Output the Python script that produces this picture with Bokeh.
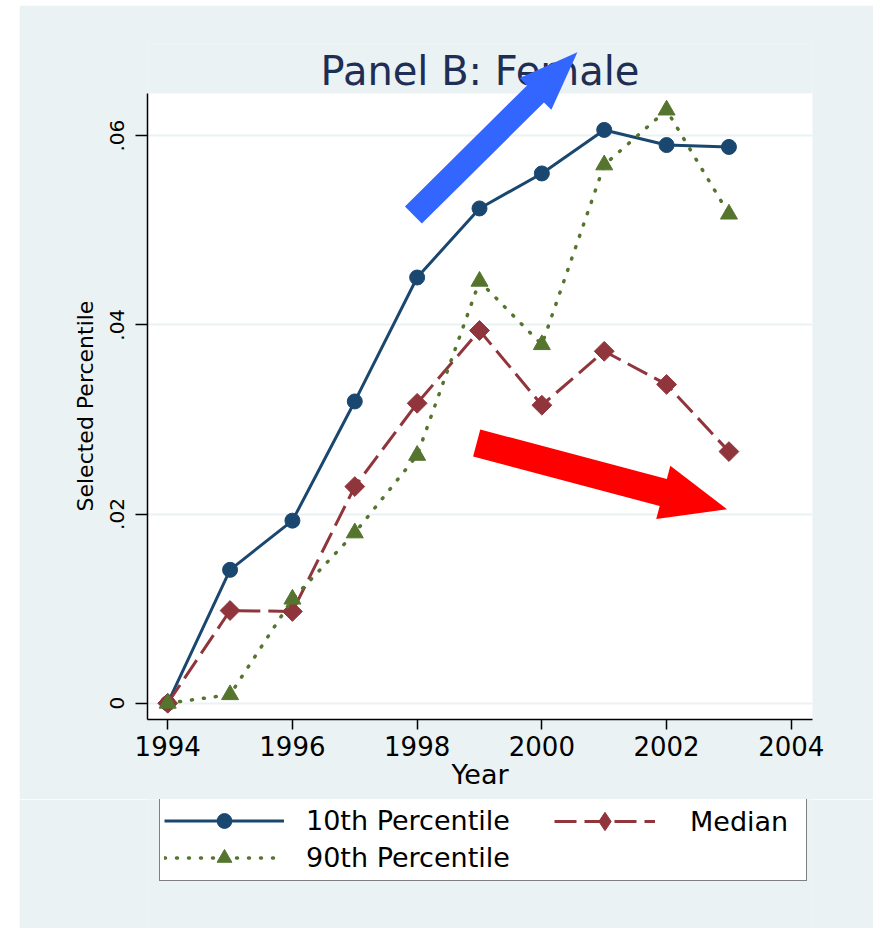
import math
from bokeh.plotting import figure
from bokeh.models import (Range1d, FixedTicker, Legend, LegendItem, PolyAnnotation, Spacer,
                          BoxAnnotation, Label, Title)
from bokeh.layouts import row, column
from bokeh.embed import file_html
from bokeh.resources import INLINE

# ---------------- data ----------------
years = [1994, 1995, 1996, 1997, 1998, 1999, 2000, 2001, 2002, 2003]
p10 = [0.0, 0.0141, 0.0193, 0.0319, 0.0450, 0.0523, 0.0560, 0.0606, 0.0590, 0.0588]
med = [0.0, 0.0098, 0.0097, 0.0229, 0.0317, 0.0394, 0.0315, 0.0372, 0.0337, 0.0266]
p90 = [0.0, 0.0009, 0.0110, 0.0180, 0.0262, 0.0446, 0.0379, 0.0569, 0.0627, 0.0517]

x_ticks = [1994, 1996, 1998, 2000, 2002, 2004]
y_ticks = [0, 0.02, 0.04, 0.06]
y_tick_labels = ["0", ".02", ".04", ".06"]
series_labels = ["10th Percentile", "Median", "90th Percentile"]
title_text = "Panel B: Female"
x_title = "Year"
y_title = "Selected Percentile"

# annotation arrows: (tail, tip) in data units
arrow_up = ((1997.94, 0.0516), (2000.57, 0.0688))
arrow_down = ((1998.955, 0.0275), (2002.97, 0.0205))

# ---------------- style ----------------
BG = "#EAF2F3"
NAVY = "#1A476F"
MAROON = "#90353B"
GREEN = "#55752F"
FONT = "DejaVu Sans"

W = 854
H1 = 794                      # main chart figure
H2 = 129                      # legend strip
ML, MR, MT, MB = 128, 61, 38, 80
PLOT_TOP = 88                 # px from figure top where the white plot area begins
X0, X1 = 1993.676, 2004.34
Y0, YTOP = -0.00172, 0.06445

fw = W - ML - MR
kx = fw / (X1 - X0)
ky = (H1 - MB - PLOT_TOP) / (YTOP - Y0)
Y1 = YTOP + (PLOT_TOP - MT) / ky      # frame extends above the plot area (room for the arrow)

p = figure(width=W, height=H1, x_range=Range1d(X0, X1), y_range=Range1d(Y0, Y1),
           output_backend="svg", toolbar_location=None,
           min_border_left=ML, min_border_right=MR, min_border_top=MT, min_border_bottom=MB)
p.background_fill_color = BG
p.border_fill_color = BG
p.outline_line_color = None

# white plot region
p.add_layout(BoxAnnotation(left=X0, right=X1, bottom=Y0, top=YTOP, fill_color="white",
                           fill_alpha=1.0, line_color=None, level="image"))

# axes
xa = p.xaxis[0]
xa.ticker = FixedTicker(ticks=x_ticks)
xa.minor_tick_line_color = None
xa.major_tick_in = 0
xa.major_tick_out = 10
xa.major_tick_line_width = 1.5
xa.axis_line_width = 1.5
xa.axis_line_color = "black"
xa.major_label_text_font = FONT
xa.major_label_text_font_size = "26px"
xa.major_label_text_color = "black"
xa.major_label_standoff = 6
xa.axis_label = x_title
xa.axis_label_text_font = FONT
xa.axis_label_text_font_size = "27px"
xa.axis_label_text_font_style = "normal"
xa.axis_label_text_color = "black"
xa.axis_label_standoff = 0

ya = p.yaxis[0]
ya.ticker = FixedTicker(ticks=y_ticks)
ya.bounds = (Y0, YTOP)
ya.major_label_overrides = {t: l for t, l in zip(y_ticks, y_tick_labels)}
ya.minor_tick_line_color = None
ya.major_tick_in = 0
ya.major_tick_out = 12
ya.major_tick_line_width = 1.5
ya.axis_line_width = 1.5
ya.axis_line_color = "black"
ya.major_label_orientation = "vertical"
ya.major_label_text_font = FONT
ya.major_label_text_font_size = "20px"
ya.major_label_text_color = "black"
ya.major_label_standoff = 11

# y-axis title as a side title, placed so it is centred on the white plot area
ytitle = Title(text=y_title, align="left", offset=208, standoff=19,
               text_font=FONT, text_font_size="22px", text_font_style="normal",
               text_color="black")
p.add_layout(ytitle, "left")

p.xgrid.visible = False
p.ygrid.ticker = FixedTicker(ticks=y_ticks)
p.ygrid.grid_line_color = BG
p.ygrid.grid_line_width = 2

# series
STY10 = dict(line_color=NAVY, line_width=3)
STYMD = dict(line_color=MAROON, line_width=3, line_dash="22 8")
STY90 = dict(line_color=GREEN, line_width=3.5, line_dash="1 11", line_cap="round")
MK10 = dict(marker="circle", size=15, fill_color=NAVY, line_color=NAVY)
MKMD = dict(marker="square", angle=math.pi / 4, size=14, fill_color=MAROON, line_color=MAROON)
MK90 = dict(marker="triangle", size=17, fill_color=GREEN, line_color=GREEN)

p.line(years, p10, **STY10)
p.scatter(years, p10, **MK10)
p.line(years, med, **STYMD)
p.scatter(years, med, **MKMD)
p.line(years, p90, **STY90)
p.scatter(years, p90, **MK90)

# title (drawn as a label so the arrow can overlap it)
p.add_layout(Label(x=(X0 + X1) / 2, y=YTOP + (PLOT_TOP - 65) / ky, text=title_text,
                   text_align="center", text_baseline="alphabetic", text_font=FONT,
                   text_font_size="40px", text_color="#1E2E55"))

# arrows (annotations), built in pixel space then mapped to data units
def arrow_poly(tail, tip, shaft, head_w, head_len):
    tx, ty = tail[0] * kx, tail[1] * ky
    hx, hy = tip[0] * kx, tip[1] * ky
    dx, dy = hx - tx, hy - ty
    L = math.hypot(dx, dy)
    ux, uy = dx / L, dy / L
    nx, ny = -uy, ux
    bx, by = hx - ux * head_len, hy - uy * head_len
    pts = [
        (tx + nx * shaft / 2, ty + ny * shaft / 2),
        (bx + nx * shaft / 2, by + ny * shaft / 2),
        (bx + nx * head_w / 2, by + ny * head_w / 2),
        (hx, hy),
        (bx - nx * head_w / 2, by - ny * head_w / 2),
        (bx - nx * shaft / 2, by - ny * shaft / 2),
        (tx - nx * shaft / 2, ty - ny * shaft / 2),
    ]
    return [a / kx for a, _ in pts], [b / ky for _, b in pts]

xs, ys = arrow_poly(arrow_up[0], arrow_up[1], 24, 45, 59)
p.add_layout(PolyAnnotation(xs=xs, ys=ys, fill_color="#3366FF", fill_alpha=1.0, line_color=None))
xs, ys = arrow_poly(arrow_down[0], arrow_down[1], 28, 55, 66)
p.add_layout(PolyAnnotation(xs=xs, ys=ys, fill_color="#FF0000", fill_alpha=1.0, line_color=None))

# ---------------- legend strip ----------------
# same series drawn outside this strip's visible range, only to provide legend glyphs
p2 = figure(width=W, height=H2, x_range=Range1d(0, 1), y_range=Range1d(0, 1),
            output_backend="svg", toolbar_location=None, x_axis_type=None, y_axis_type=None,
            min_border_left=ML, min_border_right=MR, min_border_top=0, min_border_bottom=0)
p2.background_fill_color = BG
p2.border_fill_color = BG
p2.outline_line_color = None
p2.grid.visible = False

k10l = p2.line(years, p10, **STY10)
k10s = p2.scatter(years, p10, **MK10)
kmdl = p2.line(years, med, **STYMD)
kmds = p2.scatter(years, med, marker="diamond", size=14, fill_color=MAROON, line_color=MAROON)
k90l = p2.line(years, p90, **STY90)
k90s = p2.scatter(years, p90, **MK90)

common = dict(label_height=31, spacing=0, padding=4, margin=0,
              label_text_font=FONT, label_text_font_size="27px", label_text_color="black")
legA = Legend(items=[LegendItem(label=series_labels[0], renderers=[k10l, k10s]),
                     LegendItem(label=series_labels[2], renderers=[k90l, k90s])],
              location=(12, 47), orientation="vertical", glyph_width=120, glyph_height=37,
              label_standoff=22, label_width=496, border_line_color="black",
              border_line_width=1.5, background_fill_color="white", background_fill_alpha=1.0,
              **common)
legB = Legend(items=[LegendItem(label=series_labels[1], renderers=[kmdl, kmds])],
              location=(407, 84), orientation="vertical", glyph_width=101, glyph_height=46,
              label_standoff=35, border_line_color=None, background_fill_alpha=0.0, **common)
p2.add_layout(legA)
p2.add_layout(legB)

layout = column(Spacer(height=5), row(Spacer(width=19), column(p, p2)))
open("out.html", "w").write(file_html(layout, INLINE))
